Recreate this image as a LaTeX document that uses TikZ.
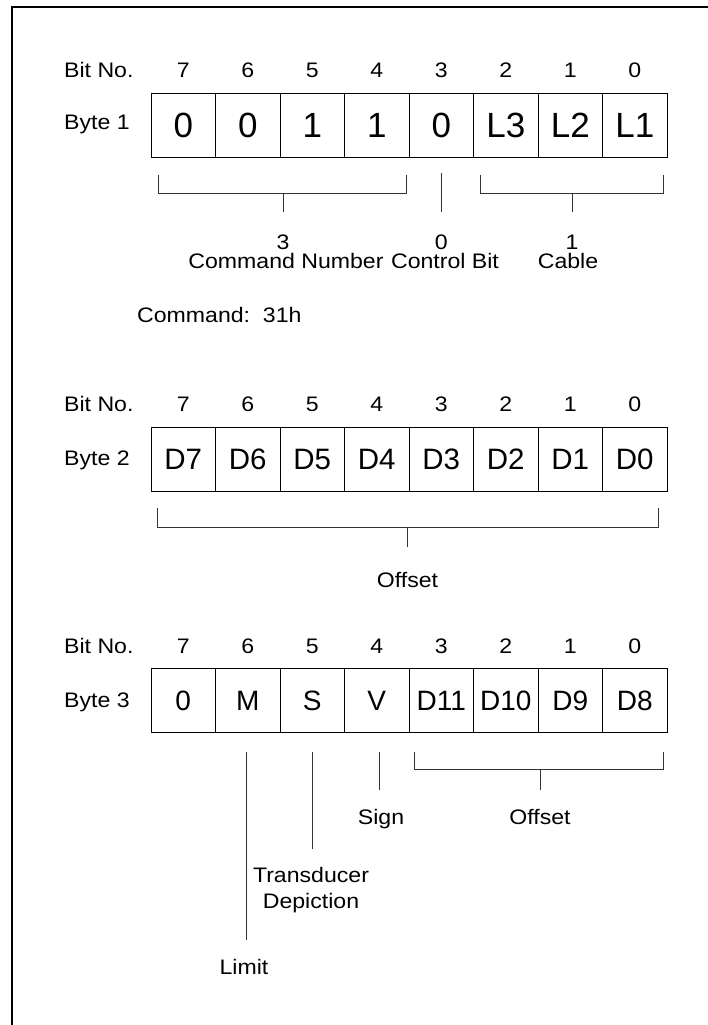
\documentclass[tikz,border=0pt]{standalone}
\usepackage{fontspec}
\setmainfont{Liberation Sans}
\newfontfamily\lblfont[FakeStretch=1.1]{Liberation Sans}
\begin{document}
\begin{tikzpicture}[x=1pt,y=-1pt,
  cell/.style={draw=black, line width=0.9pt, minimum width=64.5pt, minimum height=64pt, inner sep=0pt, anchor=center},
  big/.style={font=\fontsize{35}{38}\selectfont},
  mid/.style={font=\fontsize{29.5}{32}\selectfont},
  sml/.style={font=\fontsize{28}{30}\selectfont},
  lbl/.style={font=\lblfont\fontsize{21}{24}\selectfont, inner sep=0pt},
  br/.style={draw=black!80, line width=0.9pt},
  frame/.style={draw=black, line width=2.2pt}
]
\useasboundingbox (0,0) rectangle (707,1025);
\coordinate (fb) at (12,1030);
\coordinate (ftl) at (12,7);
\coordinate (ftr) at (712,7);
\draw[frame] (fb) -- (ftl) -- (ftr);

% ---------- Byte 1 ----------
\node[lbl, anchor=base west] (bitno1) at (64,77.5) {Bit No.};
\node[lbl, anchor=base west] (byte1) at (64,129.5) {Byte 1};
\foreach \t [count=\i from 0] in {0,0,1,1,0,L3,L2,L1}{
  \pgfmathsetmacro{\xx}{183.25+64.5*\i}
  \pgfmathtruncatemacro{\bit}{7-\i}
  \node[cell, big] (b1c\bit) at (\xx,125) {\t};
  \node[lbl, anchor=base] (b1n\bit) at (\xx,77.5) {\bit};
}
% brackets
\coordinate (cmdA) at (158,175); \coordinate (cmdB) at (158,193);
\coordinate (cmdC) at (406,193); \coordinate (cmdD) at (406,175);
\coordinate (cmdM) at (283,193); \coordinate (cmdE) at (283,212);
\draw[br] (cmdA) -- (cmdB) -- (cmdC) -- (cmdD);
\draw[br] (cmdM) -- (cmdE);
\coordinate (ctlA) at (441.25,173); \coordinate (ctlB) at (441.25,212);
\draw[br] (ctlA) -- (ctlB);
\coordinate (cabA) at (480,175); \coordinate (cabB) at (480,193);
\coordinate (cabC) at (663,193); \coordinate (cabD) at (663,175);
\coordinate (cabM) at (572,193); \coordinate (cabE) at (572,212);
\draw[br] (cabA) -- (cabB) -- (cabC) -- (cabD);
\draw[br] (cabM) -- (cabE);
\node[lbl, anchor=base] (v3) at (283,249) {3};
\node[lbl, anchor=base] (cmdnum) at (286,268) {Command Number};
\node[lbl, anchor=base] (v0) at (441.25,249) {0};
\node[lbl, anchor=base] (ctlbit) at (445,268) {Control Bit};
\node[lbl, anchor=base] (v1) at (572,249) {1};
\node[lbl, anchor=base] (cable) at (568,268) {Cable};
\node[lbl, anchor=base west] (command) at (137,322.5) {Command:\ \ 31h};

% ---------- Byte 2 ----------
\node[lbl, anchor=base west] (bitno2) at (64,411.5) {Bit No.};
\node[lbl, anchor=base west] (byte2) at (64,465.5) {Byte 2};
\foreach \t [count=\i from 0] in {D7,D6,D5,D4,D3,D2,D1,D0}{
  \pgfmathsetmacro{\xx}{183.25+64.5*\i}
  \pgfmathtruncatemacro{\bit}{7-\i}
  \node[cell, mid] (b2c\bit) at (\xx,459) {\t};
  \node[lbl, anchor=base] (b2n\bit) at (\xx,411.5) {\bit};
}
\coordinate (offA) at (157,508); \coordinate (offB) at (157,527);
\coordinate (offC) at (658,527); \coordinate (offD) at (658,508);
\coordinate (offM) at (407.5,527); \coordinate (offE) at (407.5,547);
\draw[br] (offA) -- (offB) -- (offC) -- (offD);
\draw[br] (offM) -- (offE);
\node[lbl, anchor=base] (offset2) at (407.5,587.5) {Offset};

% ---------- Byte 3 ----------
\node[lbl, anchor=base west] (bitno3) at (64,653.5) {Bit No.};
\node[lbl, anchor=base west] (byte3) at (64,707.5) {Byte 3};
\foreach \t [count=\i from 0] in {0,M,S,V,D11,D10,D9,D8}{
  \pgfmathsetmacro{\xx}{183.25+64.5*\i}
  \pgfmathtruncatemacro{\bit}{7-\i}
  \node[cell, sml] (b3c\bit) at (\xx,700.5) {\t};
  \node[lbl, anchor=base] (b3n\bit) at (\xx,653.5) {\bit};
}
\coordinate (limA) at (246.5,752); \coordinate (limB) at (246.5,940);
\draw[br] (limA) -- (limB);
\coordinate (trA) at (312.25,752); \coordinate (trB) at (312.25,849);
\draw[br] (trA) -- (trB);
\coordinate (sgA) at (379,752); \coordinate (sgB) at (379,790);
\draw[br] (sgA) -- (sgB);
\coordinate (o3A) at (414,752); \coordinate (o3B) at (414,769);
\coordinate (o3C) at (663,769); \coordinate (o3D) at (663,752);
\coordinate (o3M) at (540,769); \coordinate (o3E) at (540,790);
\draw[br] (o3A) -- (o3B) -- (o3C) -- (o3D);
\draw[br] (o3M) -- (o3E);
\node[lbl, anchor=base] (sign) at (381,824.5) {Sign};
\node[lbl, anchor=base] (offset3) at (540,824.5) {Offset};
\node[lbl, anchor=base] (trans) at (311,882.5) {Transducer};
\node[lbl, anchor=base] (depic) at (311,908.5) {Depiction};
\node[lbl, anchor=base] (limit) at (244,974.5) {Limit};
\end{tikzpicture}
\end{document}
